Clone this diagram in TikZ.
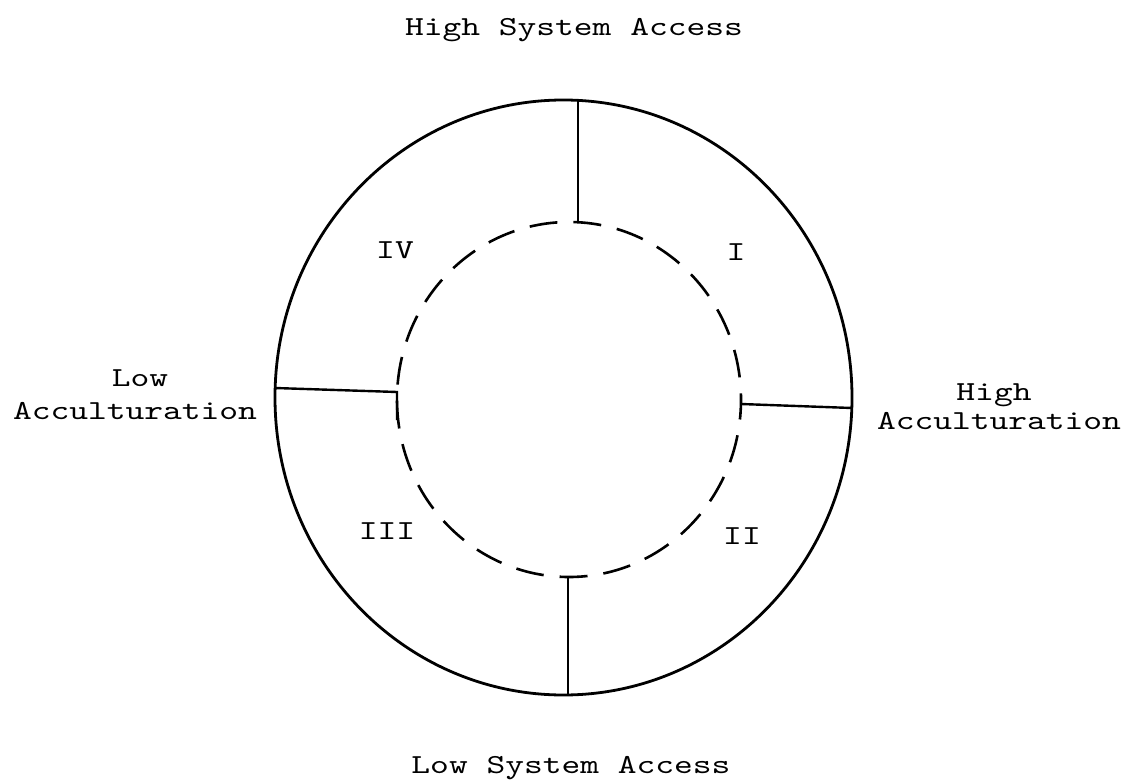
\documentclass[tikz,border=0pt]{standalone}
\usepackage{fontspec}
\newfontfamily\tw{lmmono10-regular.otf}[FakeStretch=1.3]
\begin{document}
\begin{tikzpicture}[x=1pt,y=-1pt,
  lbl/.style={font=\tw\fontsize{27.5}{30}\selectfont, inner sep=0pt},
  ring/.style={line width=2.8pt},
  inring/.style={line width=2.6pt, dash pattern=on 28pt off 16pt, dash phase=8pt},
  divider/.style={line width=2.4pt}]
\useasboundingbox (0,0) rectangle (1132,781);
% circles
\draw[ring] (563.5,397.5) ellipse [x radius=288.5, y radius=297.5];
\draw[inring] (569,399.5) ellipse [x radius=172, y radius=177.5];
% divider end points
\coordinate (otop) at (578,100);
\coordinate (itop) at (578,222);
\coordinate (obot) at (568,695);
\coordinate (ibot) at (568,577);
\coordinate (oleft) at (275,388);
\coordinate (ileft) at (397,392);
\coordinate (ileftb) at (397,420);
\coordinate (oright) at (852,408);
\coordinate (iright) at (741,404);
\draw[divider] (otop) -- (itop);
\draw[divider] (ibot) -- (obot);
\draw[divider] (oleft) -- (ileft) -- (ileftb);
\draw[divider] (iright) -- (oright);
% axis labels
\node[lbl, anchor=base] (hsa) at (574,36) {High System Access};
\node[lbl, anchor=base] (lsa) at (571,773) {Low System Access};
\node[lbl, anchor=base] (low) at (140,386) {Low};
\node[lbl, anchor=base] (lacc) at (135,419) {Acculturation};
\node[lbl, anchor=base] (high) at (994,400) {High};
\node[lbl, anchor=base] (hacc) at (999,429) {Acculturation};
% quadrant labels
\node[lbl] (q4) at (395,250) {IV};
\node[lbl] (q1) at (736,252) {I};
\node[lbl] (q3) at (387,531) {III};
\node[lbl] (q2) at (742,536) {II};
\end{tikzpicture}
\end{document}
